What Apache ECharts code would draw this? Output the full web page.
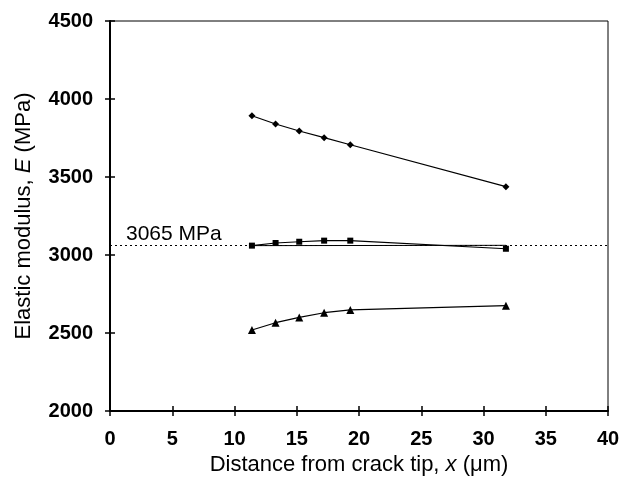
<!DOCTYPE html>
<html>
<head>
<meta charset="utf-8">
<script src="https://cdn.jsdelivr.net/npm/echarts@6/dist/echarts.min.js"></script>
<style>
  html, body { margin: 0; padding: 0; background: #fff; }
  #main { width: 625px; height: 482px; }
</style>
</head>
<body>
<div id="main"></div>
<script>
// distances from crack tip (um)
const xPos = [11.4, 13.3, 15.2, 17.2, 19.3, 31.8];
const upperE = [3893, 3840, 3795, 3752, 3707, 3438];
const middleE = [3060, 3077, 3085, 3092, 3092, 3040];
const lowerE = [2519, 2566, 2600, 2630, 2648, 2675];
// straight line under the middle series
const middleBase = [[11.4, 3060], [31.8, 3062]];
const refValue = 3065;
const refLabel = "3065 MPa";

const pairs = (ys) => xPos.map((x, i) => [x, ys[i]]);

const myChart = echarts.init(document.getElementById("main"));

const tickLabel = {
  color: "#000",
  fontFamily: "Liberation Sans",
  fontSize: 20,
  fontWeight: "bold",
  formatter: (v) => String(v)
};

const option = {
  animation: false,
  grid: {
    left: 110,
    right: 17,
    top: 21,
    bottom: 71,
    show: true,
    borderColor: "#000",
    borderWidth: 1
  },
  xAxis: [
    {
      type: "value",
      min: 0,
      max: 40,
      interval: 5,
      name: "Distance from crack tip, {i|x} (\u03bcm)",
      nameLocation: "middle",
      nameGap: 43,
      nameTextStyle: {
        color: "#000",
        fontFamily: "Liberation Sans",
        fontSize: 22,
        rich: { i: { fontStyle: "italic", fontSize: 22, fontFamily: "Liberation Sans", color: "#000" } }
      },
      axisLine: { lineStyle: { color: "#000", width: 2 } },
      axisTick: { inside: false, length: 5, lineStyle: { color: "#000", width: 1.5 } },
      axisLabel: Object.assign({ margin: 18 }, tickLabel),
      splitLine: { show: false }
    },
    {
      type: "value",
      min: 0,
      max: 40,
      interval: 5,
      position: "bottom",
      axisLine: { show: false },
      axisTick: { inside: true, length: 5, lineStyle: { color: "#000", width: 1.5 } },
      axisLabel: { show: false },
      splitLine: { show: false }
    }
  ],
  yAxis: [
    {
      type: "value",
      min: 2000,
      max: 4500,
      interval: 500,
      name: "Elastic modulus, {i|E} (MPa)",
      nameLocation: "middle",
      nameGap: 75,
      nameTextStyle: {
        color: "#000",
        fontFamily: "Liberation Sans",
        fontSize: 22,
        rich: { i: { fontStyle: "italic", fontSize: 22, fontFamily: "Liberation Sans", color: "#000" } }
      },
      axisLine: { lineStyle: { color: "#000", width: 2 } },
      axisTick: { inside: false, length: 5, lineStyle: { color: "#000", width: 1.5 } },
      axisLabel: Object.assign({ margin: 17 }, tickLabel),
      splitLine: { show: false }
    },
    {
      type: "value",
      min: 2000,
      max: 4500,
      interval: 500,
      position: "left",
      axisLine: { show: false },
      axisTick: { inside: true, length: 5, lineStyle: { color: "#000", width: 1.5 } },
      axisLabel: { show: false },
      splitLine: { show: false }
    }
  ],
  series: [
    {
      type: "line",
      data: pairs(upperE),
      symbol: "diamond",
      symbolSize: 7,
      itemStyle: { color: "#000" },
      lineStyle: { color: "#000", width: 1.2 }
    },
    {
      type: "line",
      data: pairs(middleE),
      symbol: "rect",
      symbolSize: 6,
      itemStyle: { color: "#000" },
      lineStyle: { color: "#000", width: 1.2 },
      markLine: {
        silent: true,
        symbol: "none",
        lineStyle: { color: "#000", type: [2, 3], width: 1 },
        label: {
          formatter: refLabel,
          position: "insideStartTop",
          distance: [16, 0],
          color: "#000",
          fontFamily: "Liberation Sans",
          fontSize: 21
        },
        data: [{ yAxis: refValue }]
      }
    },
    {
      type: "line",
      data: middleBase,
      symbol: "none",
      lineStyle: { color: "#000", width: 1 }
    },
    {
      type: "line",
      data: pairs(lowerE),
      symbol: "triangle",
      symbolSize: 8,
      itemStyle: { color: "#000" },
      lineStyle: { color: "#000", width: 1.2 }
    }
  ]
};
myChart.setOption(option);
</script>
</body>
</html>
